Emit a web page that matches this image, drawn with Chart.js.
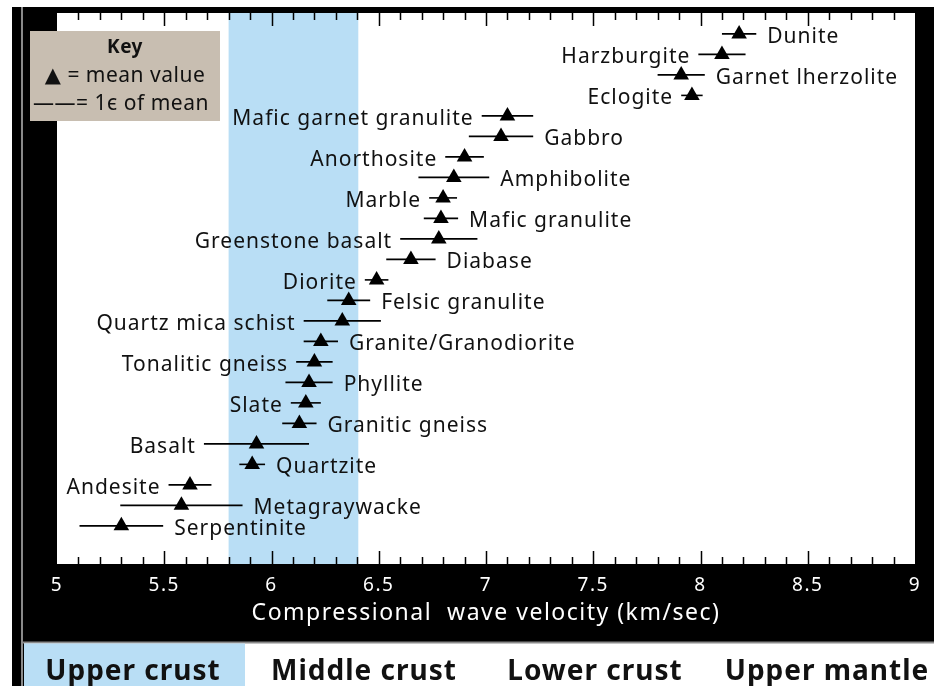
<!DOCTYPE html>
<html>
<head>
<meta charset="utf-8">
<script src="https://cdn.jsdelivr.net/npm/chart.js@4.4.0/dist/chart.umd.min.js"></script>
<style>
  html, body { margin: 0; padding: 0; background: #fff; }
  #wrap { width: 934px; height: 686px; }
</style>
</head>
<body>
<div id="wrap"><canvas id="velocityChart" width="934" height="686"></canvas></div>
<script>
// rock types, top to bottom
const rocks = [
  'Dunite', 'Harzburgite', 'Garnet lherzolite', 'Eclogite',
  'Mafic garnet granulite', 'Gabbro', 'Anorthosite', 'Amphibolite',
  'Marble', 'Mafic granulite', 'Greenstone basalt', 'Diabase',
  'Diorite', 'Felsic granulite', 'Quartz mica schist', 'Granite/Granodiorite',
  'Tonalitic gneiss', 'Phyllite', 'Slate', 'Granitic gneiss',
  'Basalt', 'Quartzite', 'Andesite', 'Metagraywacke', 'Serpentinite'
];
// mean P-wave velocity, km/sec
const meanVelocity = [
  8.18, 8.10, 7.91, 7.96,
  7.10, 7.07, 6.90, 6.85,
  6.80, 6.79, 6.78, 6.65,
  6.49, 6.36, 6.33, 6.23,
  6.20, 6.175, 6.16, 6.13,
  5.93, 5.91, 5.62, 5.58, 5.30
];
// one standard deviation
const sdVelocity = [
  0.08, 0.11, 0.11, 0.05,
  0.12, 0.15, 0.09, 0.165,
  0.065, 0.08, 0.18, 0.115,
  0.055, 0.10, 0.18, 0.08,
  0.085, 0.11, 0.07, 0.08,
  0.245, 0.06, 0.10, 0.285, 0.195
];
// which side of the bar the name goes
const labelSide = [
  'R', 'L', 'R', 'L',
  'L', 'R', 'L', 'R',
  'L', 'R', 'L', 'R',
  'L', 'R', 'L', 'R',
  'L', 'R', 'L', 'R',
  'L', 'R', 'L', 'R', 'R'
];
const upperCrust = [5.8, 6.4];
const crustLayers = ['Upper crust', 'Middle crust', 'Lower crust', 'Upper mantle'];
const keyLines = ['Key', '\u25B2 = mean value', '\u2014\u2014= 1\u0454 of mean'];

const FONT = '"Noto Sans", "DejaVu Sans", sans-serif';
const BLUE = '#b9def5';

const frame = {
  id: 'frame',
  beforeDraw(chart) {
    const {ctx, chartArea: a, scales: {x}} = chart;
    const W = chart.width, H = chart.height;
    ctx.save();
    ctx.fillStyle = '#fff';
    ctx.fillRect(0, 0, W, H);
    ctx.fillStyle = '#000';
    ctx.fillRect(12, 7, W - 12, 635);
    ctx.fillRect(12, 642, 12, H - 642);
    ctx.strokeStyle = '#8a8a8a';
    ctx.lineWidth = 2;
    ctx.beginPath();
    ctx.moveTo(22, 7); ctx.lineTo(22, H);
    ctx.moveTo(22, 642.5); ctx.lineTo(W, 642.5);
    ctx.stroke();
    // plot field + upper crust range
    ctx.fillStyle = '#fff';
    ctx.fillRect(a.left, a.top, a.width, a.height);
    const b0 = x.getPixelForValue(upperCrust[0]);
    const b1 = x.getPixelForValue(upperCrust[1]);
    ctx.fillStyle = BLUE;
    ctx.fillRect(b0, a.top, b1 - b0 + 1, a.height);
    // layer strip under the axis
    ctx.fillRect(24, 643.5, 221, H - 643.5);
    ctx.restore();
    // wider tracking for the axis text drawn by the scale
    ctx.letterSpacing = '1.5px';
  }
};

const errorBars = {
  id: 'errorBars',
  beforeDatasetsDraw(chart) {
    const {ctx, scales: {x, y}} = chart;
    ctx.save();
    ctx.strokeStyle = '#000';
    ctx.lineWidth = 1.6;
    meanVelocity.forEach((m, i) => {
      const py = y.getPixelForValue(i);
      ctx.beginPath();
      ctx.moveTo(x.getPixelForValue(m - sdVelocity[i]), py);
      ctx.lineTo(x.getPixelForValue(m + sdVelocity[i]), py);
      ctx.stroke();
    });
    ctx.restore();
  }
};

const rockLabels = {
  id: 'rockLabels',
  afterDatasetsDraw(chart) {
    const {ctx, scales: {x, y}} = chart;
    ctx.save();
    ctx.fillStyle = '#111';
    ctx.font = '21px ' + FONT;
    ctx.letterSpacing = '1px';
    ctx.textBaseline = 'alphabetic';
    rocks.forEach((name, i) => {
      const py = y.getPixelForValue(i) + 9;
      if (labelSide[i] === 'L') {
        ctx.textAlign = 'right';
        ctx.fillText(name, x.getPixelForValue(meanVelocity[i] - sdVelocity[i]) - 8, py);
      } else {
        ctx.textAlign = 'left';
        ctx.fillText(name, x.getPixelForValue(meanVelocity[i] + sdVelocity[i]) + 11, py);
      }
    });
    ctx.restore();
  }
};

// inward tick marks on top and bottom edges
const innerTicks = {
  id: 'innerTicks',
  afterDraw(chart) {
    const {ctx, chartArea: a, scales: {x}} = chart;
    ctx.save();
    ctx.strokeStyle = '#000';
    ctx.lineWidth = 1.5;
    ctx.beginPath();
    x.ticks.forEach(t => {
      if (t.value <= x.min || t.value >= x.max) return;
      const px = Math.round(x.getPixelForValue(t.value)) + 0.5;
      const major = Math.abs(t.value * 2 - Math.round(t.value * 2)) < 1e-6;
      const len = major ? 13 : 7;
      ctx.moveTo(px, a.top); ctx.lineTo(px, a.top + len);
      ctx.moveTo(px, a.bottom); ctx.lineTo(px, a.bottom - len);
    });
    ctx.stroke();
    ctx.restore();
  }
};

const keyBox = {
  id: 'keyBox',
  afterDraw(chart) {
    const {ctx} = chart;
    ctx.save();
    ctx.fillStyle = '#c8beb1';
    ctx.fillRect(30, 31, 190, 90);
    ctx.fillStyle = '#111';
    ctx.textAlign = 'center';
    ctx.textBaseline = 'alphabetic';
    ctx.letterSpacing = '0.5px';
    ctx.font = 'bold 19px ' + FONT;
    ctx.fillText(keyLines[0], 125, 53);
    ctx.font = '21px ' + FONT;
    ctx.fillText(keyLines[1], 125, 82);
    ctx.fillText(keyLines[2], 121, 110);
    // crust / mantle strip
    ctx.font = 'bold 28px ' + FONT;
    ctx.letterSpacing = '1px';
    const centers = [133, 364, 595, 827];
    crustLayers.forEach((t, i) => ctx.fillText(t, centers[i], 680));
    ctx.restore();
  }
};

new Chart(document.getElementById('velocityChart'), {
  type: 'scatter',
  data: {
    datasets: [{
      data: meanVelocity.map((v, i) => ({x: v, y: i})),
      pointStyle: 'triangle',
      pointRadius: 9,
      pointHoverRadius: 9,
      backgroundColor: '#000',
      borderWidth: 0
    }]
  },
  options: {
    responsive: false,
    animation: false,
    events: [],
    layout: { padding: { left: 57, top: 13, right: 19, bottom: 44 } },
    plugins: {
      legend: { display: false },
      tooltip: { enabled: false }
    },
    scales: {
      x: {
        type: 'linear',
        min: 5,
        max: 9,
        grid: { display: false },
        border: { display: false },
        ticks: {
          stepSize: 0.1,
          autoSkip: false,
          maxRotation: 0,
          color: '#fff',
          padding: 2,
          font: { family: FONT, size: 19 },
          callback(value) {
            if (Math.abs(value * 2 - Math.round(value * 2)) > 1e-6) return '';
            return String(Math.round(value * 10) / 10);
          }
        },
        title: {
          display: true,
          text: 'Compressional  wave velocity (km/sec)',
          color: '#fff',
          font: { family: FONT, size: 23 },
          padding: { top: 0, bottom: 15 }
        },
        afterFit(scale) { scale.height = 78; }
      },
      y: {
        type: 'linear',
        display: false,
        min: -1.02,
        max: 25.86,
        reverse: true
      }
    }
  },
  plugins: [frame, errorBars, rockLabels, innerTicks, keyBox]
});
</script>
</body>
</html>
